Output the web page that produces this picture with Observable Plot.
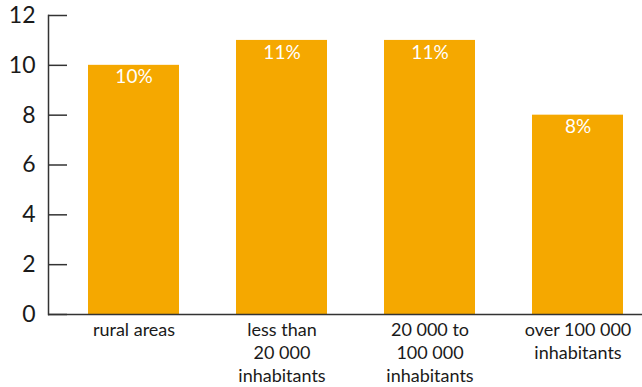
<!DOCTYPE html>
<html>
<head>
<meta charset="utf-8">
<script src="https://cdn.jsdelivr.net/npm/d3@7"></script>
<script src="https://cdn.jsdelivr.net/npm/@observablehq/plot@0.6"></script>
<style>
  html, body { margin: 0; padding: 0; background: #fff; }
  #chart svg { display: block; }
</style>
</head>
<body>
<div id="chart"></div>
<script>
const categories = ["rural areas", "less than\n20 000\ninhabitants", "20 000 to\n100 000\ninhabitants", "over 100 000\ninhabitants"];
const values = [10, 11, 11, 8];
const valueLabels = ["10%", "11%", "11%", "8%"];
const yTicks = [0, 2, 4, 6, 8, 10, 12];

const data = categories.map((c, i) => ({cat: c, value: values[i], label: valueLabels[i]}));
const barColor = "#F5A800";
const ink = "#1a1a1a";

const chart = Plot.plot({
  width: 642,
  height: 387,
  marginLeft: 48,
  marginRight: 0,
  marginTop: 15,
  marginBottom: 73,
  style: {fontFamily: "Lato, sans-serif", background: "#fff", color: ink},
  x: {domain: categories, paddingInner: 0.385, paddingOuter: 0.1, insetLeft: 25, insetRight: 4, label: null},
  y: {domain: [0, 12], label: null},
  marks: [
    Plot.barY(data, {x: "cat", y: "value", fill: barColor}),
    Plot.text(data, {x: "cat", y: "value", text: "label", fill: "white", fontSize: 19, dy: 12}),
    Plot.axisY({ticks: yTicks, tickSize: 0, tickPadding: 13, fontSize: 23, label: null, fill: ink}),
    Plot.axisY({ticks: yTicks, tickSize: -19, text: null, stroke: "#333", strokeWidth: 1.5, label: null}),
    Plot.frame({anchor: "left", stroke: "#333", strokeWidth: 1.5}),
    Plot.ruleY([0], {stroke: "#333", strokeWidth: 1.5}),
    Plot.axisX({tickSize: 0, tickPadding: 5, fontSize: 18, lineHeight: 1.28, label: null, fill: ink})
  ]
});
document.getElementById("chart").appendChild(chart);
</script>
</body>
</html>
